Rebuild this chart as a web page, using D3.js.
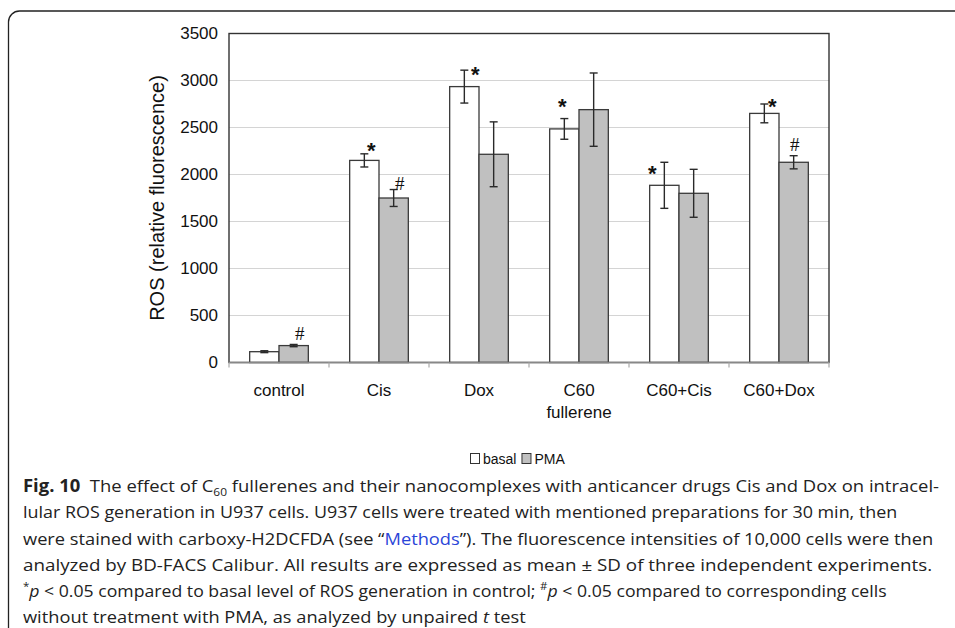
<!DOCTYPE html>
<html>
<head>
<meta charset="utf-8">
<style>
  body { margin: 0; background: #fff; }
  svg { display: block; }
</style>
</head>
<body>
<svg width="955" height="628"></svg>
<script src="https://d3js.org/d3.v7.min.js"></script>
<script>

var categories = ["control", "Cis", "Dox", "C60 fullerene", "C60+Cis", "C60+Dox"],
    seriesNames = ["basal", "PMA"],
    basal = [115, 2150, 2935, 2485, 1885, 2650],
    basalSD = [10, 70, 175, 110, 245, 100],
    pma = [180, 1750, 2215, 2690, 1800, 2130],
    pmaSD = [12, 90, 345, 390, 255, 70],
    basalMark = ["", "*", "*", "*", "*", "*"],
    pmaMark = ["#", "#", "", "", "", "#"],
    yTicks = [0, 500, 1000, 1500, 2000, 2500, 3000, 3500];

var svg = d3.select("svg");

// outer frame (only top + left visible)
svg.append("path")
    .attr("d", "M8.5,628V22a11,11 0 0 1 11,-11H955")
    .attr("fill", "none").attr("stroke", "#222").attr("stroke-width", 1.3);

var pLeft = 229, pRight = 829, pTop = 33.5, pBottom = 362.5;

var x0 = d3.scaleBand().domain(categories).range([pLeft, pRight]).padding(0);
var x1 = d3.scaleBand().domain(seriesNames).range([0, x0.bandwidth()]).paddingOuter(0.705).paddingInner(0);
var y = d3.scaleLinear().domain([0, 3500]).range([pBottom, pTop]);

var g = svg.append("g");

// gridlines
g.selectAll("line.grid").data(yTicks.slice(1, -1)).enter().append("line")
    .attr("x1", pLeft).attr("x2", pRight)
    .attr("y1", function(d) { return y(d); }).attr("y2", function(d) { return y(d); })
    .attr("stroke", "#d4d4d4").attr("stroke-width", 1.2);

// y axis
var yAxis = g.append("g").attr("transform", "translate(" + pLeft + ",0)")
    .call(d3.axisLeft(y).tickValues(yTicks).tickFormat(d3.format("d")).tickSize(0).tickPadding(11));
yAxis.select(".domain").remove();
yAxis.selectAll("text").attr("font-family", "Liberation Sans, Arial, sans-serif")
    .attr("font-size", 17).attr("fill", "#111");

// bars
var rows = categories.map(function(c, i) {
  return [
    { cat: c, key: "basal", v: basal[i], sd: basalSD[i], mark: basalMark[i] },
    { cat: c, key: "PMA", v: pma[i], sd: pmaSD[i], mark: pmaMark[i] }
  ];
});
var fills = { basal: "#ffffff", PMA: "#c0c0c0" };

var grp = g.selectAll("g.cat").data(rows).enter().append("g")
    .attr("transform", function(d) { return "translate(" + x0(d[0].cat) + ",0)"; });

grp.selectAll("rect").data(function(d) { return d; }).enter().append("rect")
    .attr("x", function(d) { return x1(d.key); })
    .attr("width", x1.bandwidth())
    .attr("y", function(d) { return y(d.v); })
    .attr("height", function(d) { return y(0) - y(d.v); })
    .attr("fill", function(d) { return fills[d.key]; })
    .attr("stroke", "#3a3a3a").attr("stroke-width", 1.3);

// error bars
var eb = grp.selectAll("g.err").data(function(d) { return d; }).enter().append("g")
    .attr("stroke", "#2a2a2a").attr("stroke-width", 1.4);
function cx(d) { return x1(d.key) + x1.bandwidth() / 2; }
eb.append("line")
    .attr("x1", cx).attr("x2", cx)
    .attr("y1", function(d) { return y(d.v + d.sd); })
    .attr("y2", function(d) { return y(d.v - d.sd); });
eb.append("line")
    .attr("x1", function(d) { return cx(d) - 4; }).attr("x2", function(d) { return cx(d) + 4; })
    .attr("y1", function(d) { return y(d.v + d.sd); }).attr("y2", function(d) { return y(d.v + d.sd); });
eb.append("line")
    .attr("x1", function(d) { return cx(d) - 4; }).attr("x2", function(d) { return cx(d) + 4; })
    .attr("y1", function(d) { return y(d.v - d.sd); }).attr("y2", function(d) { return y(d.v - d.sd); });

// significance marks, hand-placed around the error cap as in the figure
var nudge = {
  "control|PMA": [6, -11], "Cis|basal": [7, -8], "Cis|PMA": [6, -6], "Dox|basal": [11, 0],
  "C60 fullerene|basal": [-2, -17], "C60+Cis|basal": [-12, 7], "C60+Dox|basal": [8, -2],
  "C60+Dox|PMA": [1, -11]
};
grp.selectAll("text.mark").data(function(d) { return d.filter(function(e) { return e.mark; }); })
  .enter().append("text")
    .attr("x", function(d) { return cx(d) + nudge[d.cat + "|" + d.key][0]; })
    .attr("y", function(d) {
      var centre = y(d.v + d.sd) + nudge[d.cat + "|" + d.key][1];
      return centre + (d.mark === "*" ? 12 : 6.5);
    })
    .attr("text-anchor", "middle")
    .attr("font-family", function(d) {
      return d.mark === "*" ? "Liberation Sans, Arial, sans-serif" : "Liberation Serif, Times New Roman, serif";
    })
    .attr("font-weight", function(d) { return d.mark === "*" ? "bold" : "normal"; })
    .attr("font-size", function(d) { return d.mark === "*" ? 22 : 19; })
    .attr("fill", "#111")
    .text(function(d) { return d.mark; });

// plot frame
g.append("rect").attr("x", pLeft).attr("y", pTop).attr("width", pRight - pLeft).attr("height", pBottom - pTop)
    .attr("fill", "none").attr("stroke", "#333").attr("stroke-width", 1.4);
g.append("line").attr("x1", pLeft).attr("x2", pRight).attr("y1", pBottom).attr("y2", pBottom)
    .attr("stroke", "#888").attr("stroke-width", 1.6);

// x ticks at category boundaries
var bounds = categories.map(function(c) { return x0(c); }).concat([pRight]);
g.selectAll("line.xt").data(bounds).enter().append("line")
    .attr("x1", function(d) { return d; }).attr("x2", function(d) { return d; })
    .attr("y1", pBottom).attr("y2", pBottom + 5)
    .attr("stroke", "#aaa").attr("stroke-width", 1.2);

// category labels
var catText = g.selectAll("text.cat").data(categories).enter().append("text")
    .attr("x", function(d) { return x0(d) + x0.bandwidth() / 2; })
    .attr("y", 396)
    .attr("text-anchor", "middle")
    .attr("font-family", "Liberation Sans, Arial, sans-serif")
    .attr("font-size", 17).attr("fill", "#111");
catText.each(function(d) {
  var parts = d.split(" "), t = d3.select(this);
  if (parts.length === 1) { t.text(d); return; }
  parts.forEach(function(p, i) {
    t.append("tspan").attr("x", t.attr("x")).attr("dy", i ? 22 : 0).text(p);
  });
});

// y axis title
g.append("text")
    .attr("transform", "translate(164,198)rotate(-90)")
    .attr("text-anchor", "middle")
    .attr("font-family", "Liberation Sans, Arial, sans-serif")
    .attr("font-size", 20).attr("fill", "#111")
    .text("ROS (relative fluorescence)");

// legend
var leg = svg.append("g").attr("transform", "translate(470,459)")
    .attr("font-family", "Liberation Sans, Arial, sans-serif")
    .attr("font-size", 14).attr("fill", "#111");
var lx = 0;
seriesNames.forEach(function(s) {
  leg.append("rect").attr("x", lx + 0.5).attr("y", -5.5).attr("width", 9).attr("height", 10)
      .attr("fill", fills[s]).attr("stroke", "#333").attr("stroke-width", 1);
  var t = leg.append("text").attr("x", lx + 13).attr("y", 5).text(s);
  lx += 13 + t.node().getComputedTextLength() + 5;
});

// caption
var capFont = "Open Sans, Noto Sans, sans-serif";
var capLines = [
  [["b", "Fig. 10"], ["", "  The effect of C"], ["sub", "60"], ["", " fullerenes and their nanocomplexes with anticancer drugs Cis and Dox on intracel-"]],
  [["", "lular ROS generation in U937 cells. U937 cells were treated with mentioned preparations for 30 min, then"]],
  [["", "were stained with carboxy-H2DCFDA (see \u201C"], ["link", "Methods"], ["", "\u201D). The fluorescence intensities of 10,000 cells were then"]],
  [["", "analyzed by BD-FACS Calibur. All results are expressed as mean \u00B1 SD of three independent experiments."]],
  [["sup", "*"], ["i", "p"], ["", " < 0.05 compared to basal level of ROS generation in control; "], ["sup", "#"], ["i", "p"], ["", " < 0.05 compared to corresponding cells"]],
  [["", "without treatment with PMA, as analyzed by unpaired "], ["i", "t"], ["", " test"]]
];
var capRight = [940, 898, 934, 933, 887, 526];
var capX = 23, capY0 = 492, capStep = 26.3;

capLines.forEach(function(line, li) {
  var t = svg.append("text")
      .attr("x", capX).attr("y", capY0 + li * capStep)
      .attr("font-family", capFont).attr("font-size", 17).attr("fill", "#222")
      .style("white-space", "pre");
  line.forEach(function(seg) {
    var s = t.append("tspan").text(seg[1]);
    if (seg[0] === "b") s.attr("font-weight", "bold");
    if (seg[0] === "i") s.attr("font-style", "italic");
    if (seg[0] === "link") s.attr("fill", "#2a45d8");
    if (seg[0] === "sub") s.attr("font-size", 11).attr("baseline-shift", -4);
    if (seg[0] === "sup") s.attr("font-size", 11).attr("baseline-shift", 7);
  });
  var w = t.node().getComputedTextLength();
  var sx = (capRight[li] - capX) / w;
  t.attr("transform", "translate(" + capX + ",0)scale(" + sx + ",1)translate(" + (-capX) + ",0)");
});

</script>
</body>
</html>
